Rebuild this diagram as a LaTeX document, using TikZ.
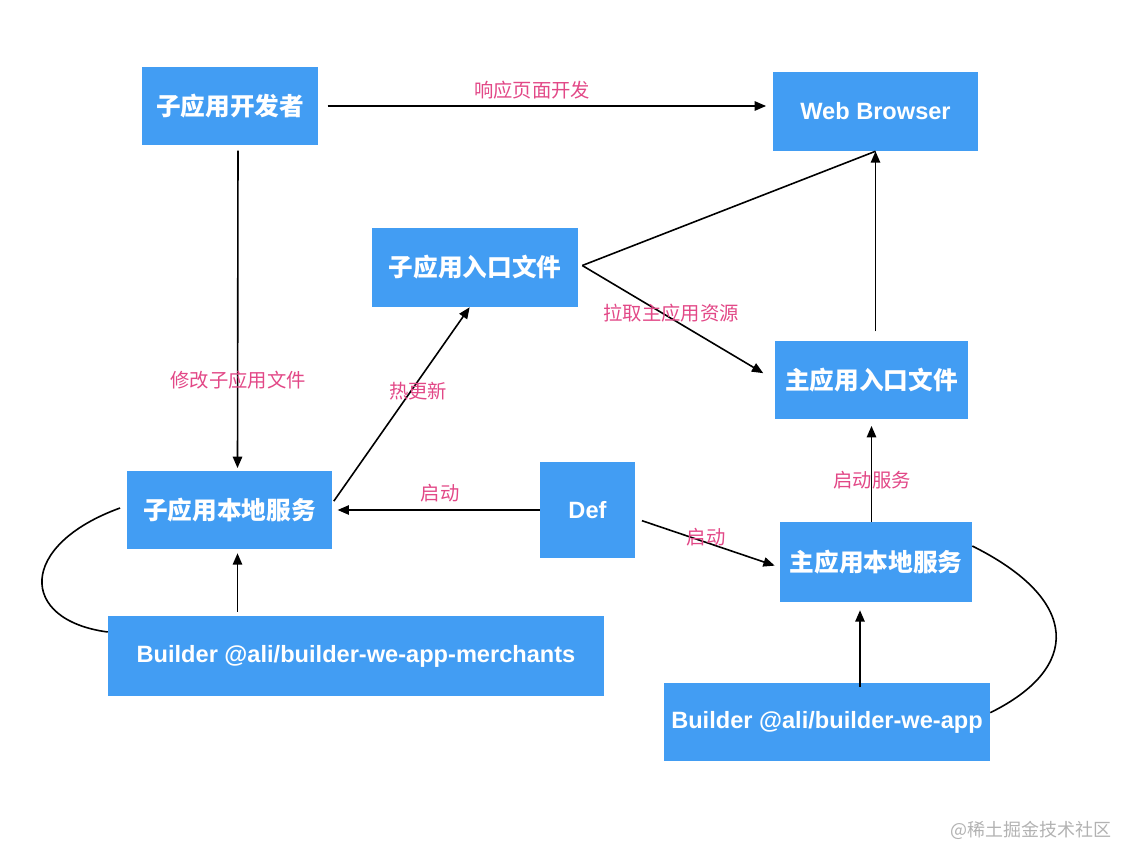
\documentclass[tikz,border=0pt]{standalone}
\usepackage{fontspec}
\setmainfont{Liberation Sans}
\newfontfamily\cjk{Noto Sans CJK SC}
\usetikzlibrary{arrows.meta}
\definecolor{boxblue}{RGB}{66,157,243}
\definecolor{labelpink}{RGB}{226,72,135}

\begin{document}
\begin{tikzpicture}[x=.75pt,y=-.75pt,
  box/.style={fill=boxblue,text=white,inner sep=0,font=\bfseries\fontsize{17.7}{20}\selectfont},
  cnbox/.style={box,font=\cjk\bfseries\fontsize{18.5}{20}\selectfont},
  lbl/.style={text=labelpink,inner sep=0,font=\cjk\fontsize{14.5}{16}\selectfont},
  link/.style={line width=1.2pt,-{Triangle[length=8.5pt,width=7pt]}},
  loop/.style={line width=1.2pt}]
\useasboundingbox (0,0) rectangle (1134,864);

% boxes
\node[cnbox,minimum width=132pt,minimum height=58.5pt] (dev) at (230,106) {子应用开发者};
\node[box,minimum width=153.75pt,minimum height=59.25pt] (browser) at (875.5,111.5) {Web Browser};
\node[cnbox,minimum width=154.5pt,minimum height=59.25pt] (subentry) at (475,267.5) {子应用入口文件};
\node[cnbox,minimum width=144.75pt,minimum height=58.5pt] (mainentry) at (871.5,380) {主应用入口文件};
\node[cnbox,minimum width=153.75pt,minimum height=58.5pt] (subsvc) at (229.5,510) {子应用本地服务};
\node[box,minimum width=71.25pt,minimum height=72pt] (def) at (587.5,510) {Def};
\node[cnbox,minimum width=144pt,minimum height=60pt] (mainsvc) at (876,562) {主应用本地服务};
\node[box,minimum width=372pt,minimum height=60pt] (builderA) at (356,656) {Builder @ali/builder-we-app-merchants};
\node[box,minimum width=244.5pt,minimum height=58.5pt] (builderB) at (827,722) {Builder @ali/builder-we-app};

% connectors
\coordinate (fork) at ([xshift=3pt,yshift=1.5pt]subentry.east);
\draw[link,shorten <=7pt,shorten >=5pt] (dev.east) -- (browser.west |- dev.east);
\draw[link,shorten <=4pt,shorten >=2pt] ([xshift=6pt]dev.south) -- ([xshift=6pt]subsvc.north);
\draw[link,shorten <=2pt] ([yshift=5pt]subsvc.east) -- ([xshift=-4pt]subentry.south);
\draw[line width=1.2pt] (fork) -- (browser.south);
\draw[link,shorten >=10pt] (fork) -- (mainentry.west);
\draw[link,shorten <=7pt] (browser.south |- mainentry.north) -- (browser.south);
\draw[link,shorten >=4pt] (def.west) -- (subsvc.east);
\draw[link,shorten >=4pt] ([xshift=5pt,yshift=-8pt]def.east) -- ([yshift=-4pt]mainsvc.west);
\draw[link,shorten >=5pt] (mainentry.south |- mainsvc.north) -- (mainentry.south);
\draw[link,shorten <=3pt,shorten >=3pt] ([xshift=6pt]subsvc.south |- builderA.north) -- ([xshift=6pt]subsvc.south);
\draw[link,shorten <=-3pt,shorten >=6pt] ([xshift=-12pt]mainsvc.south |- builderB.north) -- ([xshift=-12pt]mainsvc.south);
\draw[loop] ([xshift=-5pt,yshift=1.5pt]subsvc.west) .. controls (18,545) and (18,620) .. ([yshift=18pt]builderA.west);
\draw[loop] ([yshift=12pt]mainsvc.east) .. controls (1081,600) and (1081,668) .. ([yshift=7pt]builderB.east);

% labels
\node[lbl] (lresp) at (532,90) {响应页面开发};
\node[lbl] (ledit) at (238,380) {修改子应用文件};
\node[lbl] (lhot) at (418,391) {热更新};
\node[lbl] (lpull) at (671,313) {拉取主应用资源};
\node[lbl] (lstartA) at (440,493) {启动};
\node[lbl] (lstartB) at (706,537) {启动};
\node[lbl] (lserve) at (872,480) {启动服务};
\node[text=black!30,inner sep=0,font=\cjk\fontsize{13.5}{15}\selectfont] (mark) at (1031,830) {@稀土掘金技术社区};
\end{tikzpicture}
\end{document}
